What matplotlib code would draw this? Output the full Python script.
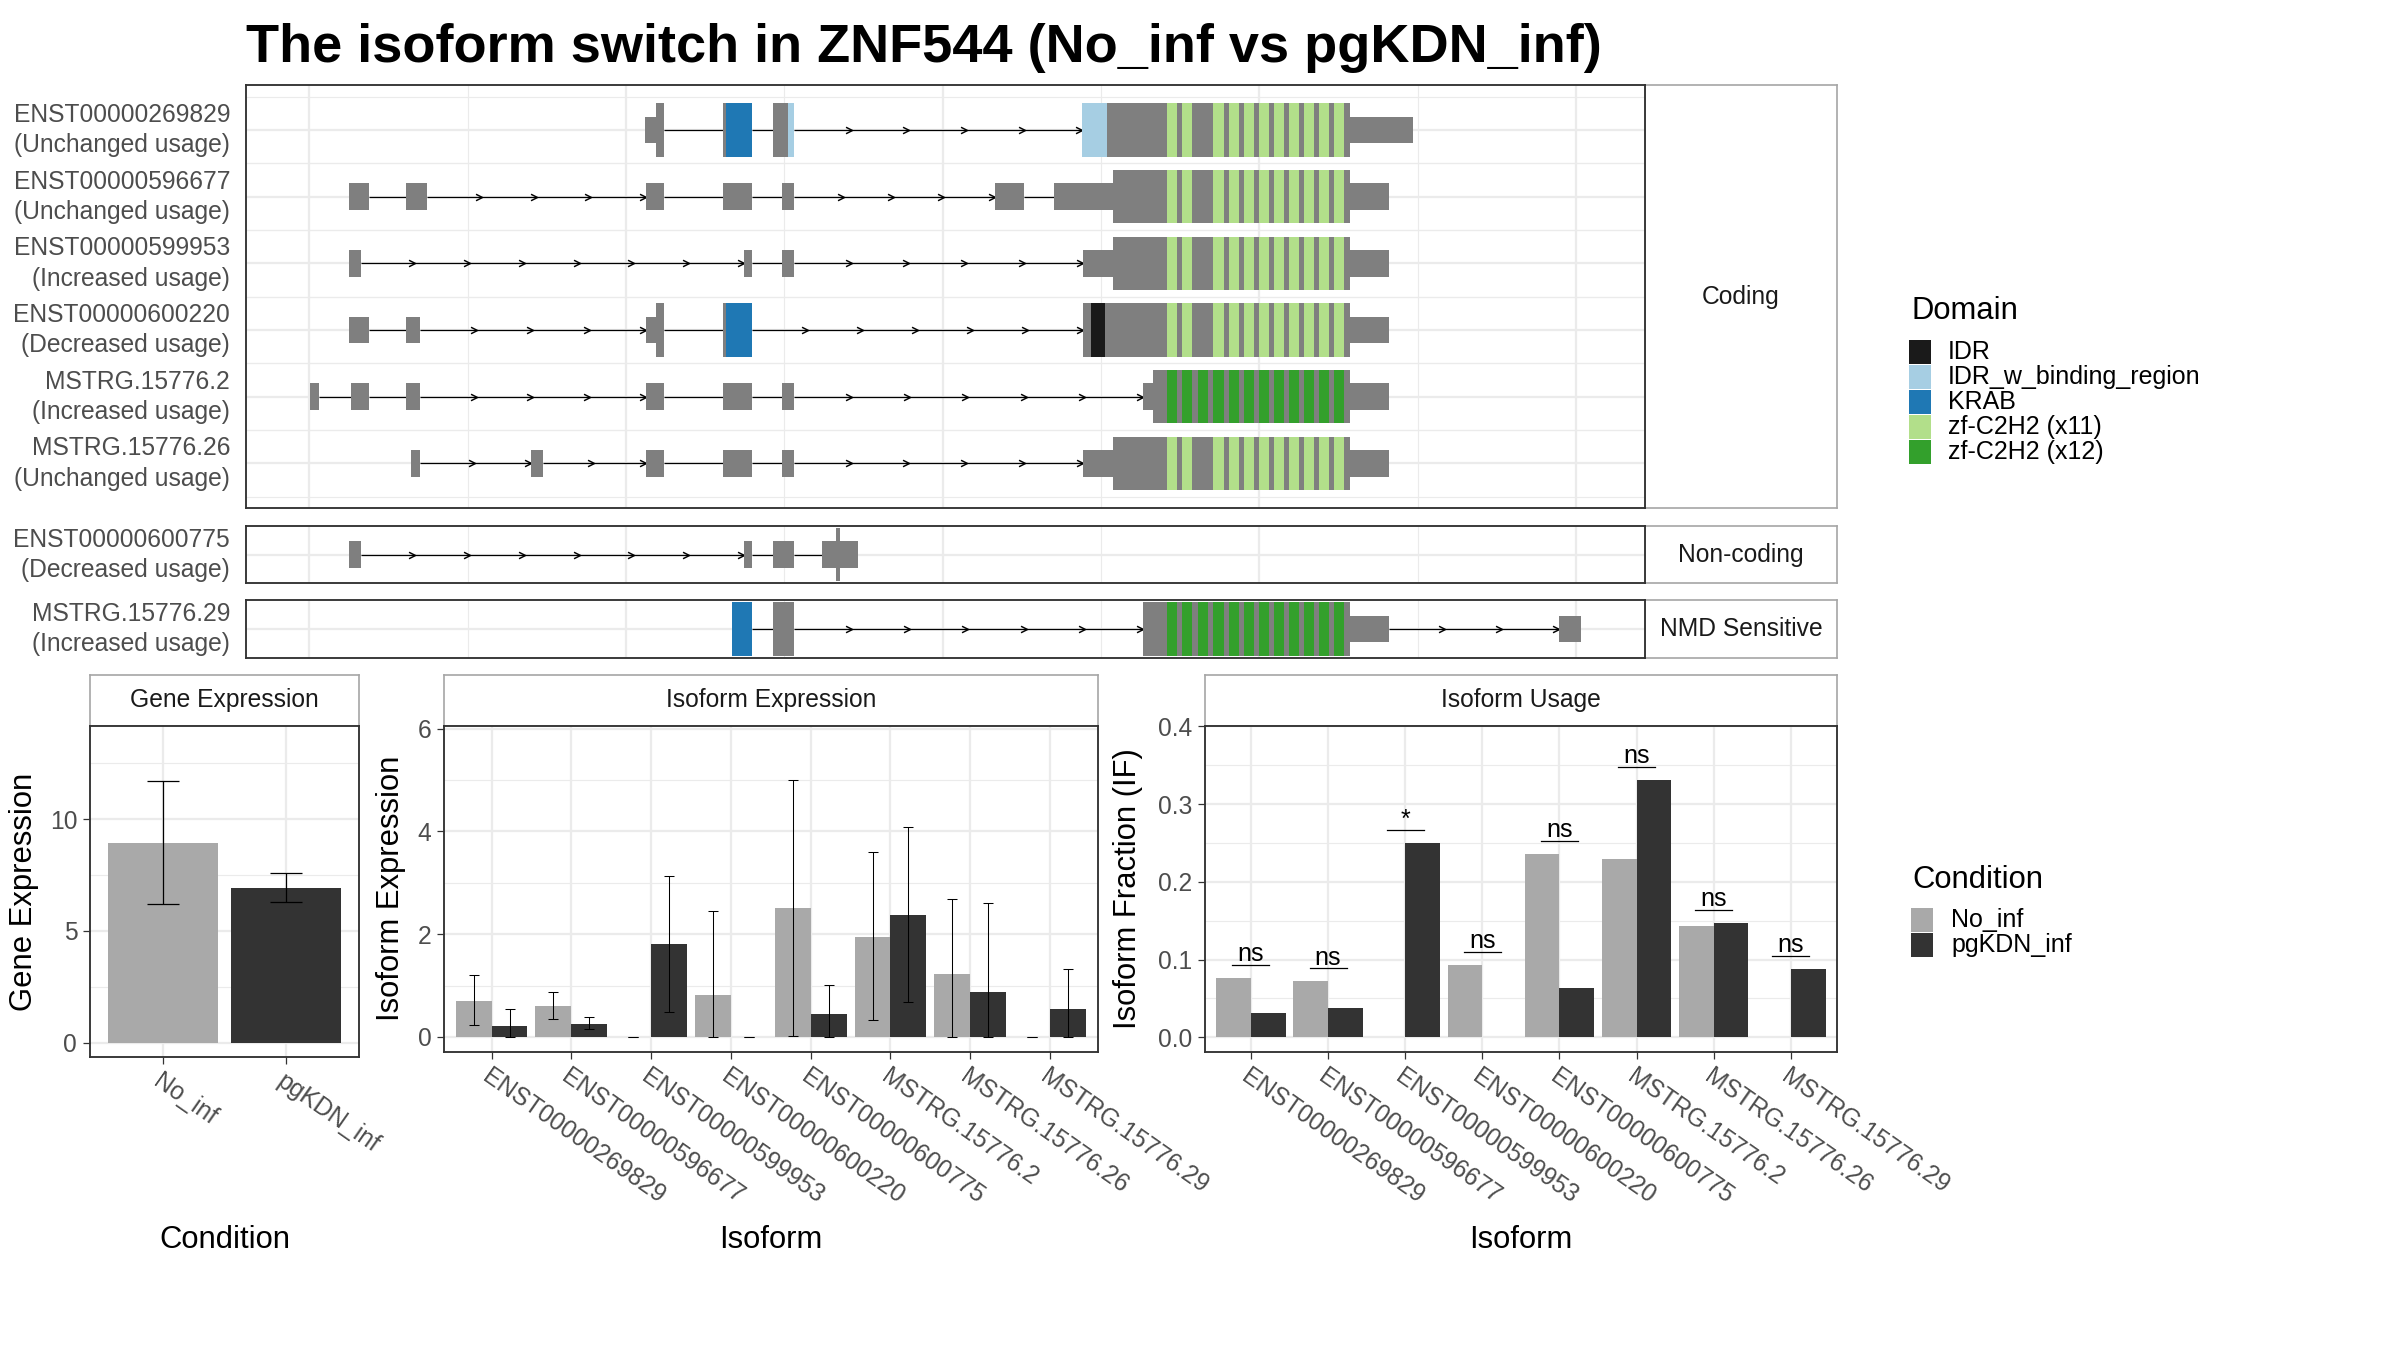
import math
import matplotlib
matplotlib.use("Agg")
import matplotlib.pyplot as plt
from matplotlib.patches import Rectangle
from matplotlib.path import Path

plt.rcParams['font.family'] = ['Liberation Sans', 'DejaVu Sans']

# ---------------- data ----------------
title = "The isoform switch in ZNF544 (No_inf vs pgKDN_inf)"

tx_ids = ["ENST00000269829", "ENST00000596677", "ENST00000599953", "ENST00000600220",
          "MSTRG.15776.2", "MSTRG.15776.26", "ENST00000600775", "MSTRG.15776.29"]
tx_usage = ["Unchanged usage", "Unchanged usage", "Increased usage", "Decreased usage",
            "Increased usage", "Unchanged usage", "Decreased usage", "Increased usage"]
tx_class = ["Coding", "Coding", "Coding", "Coding", "Coding", "Coding",
            "Non-coding", "NMD Sensitive"]
class_order = ["Coding", "Non-coding", "NMD Sensitive"]

# exon coordinates (rescaled transcript coordinates)
exons = {
    "ENST00000269829": [(212.0, 224.1), (261.0, 279.9), (293.1, 306.0), (488.3, 697.3)],
    "ENST00000596677": [(24.9, 37.8), (61.0, 74.3), (212.8, 224.1), (261.0, 279.9),
                        (298.3, 306.0), (432.9, 451.3), (470.6, 681.7)],
    "ENST00000599953": [(24.9, 32.5), (274.3, 279.9), (298.3, 306.0), (488.6, 681.7)],
    "ENST00000600220": [(24.9, 37.8), (61.0, 69.9), (212.8, 224.1), (261.0, 279.9), (488.6, 681.7)],
    "MSTRG.15776.2": [(0.4, 6.0), (26.1, 37.8), (61.0, 69.9), (212.8, 224.1), (261.0, 279.9),
                      (298.3, 306.0), (526.5, 681.7)],
    "MSTRG.15776.26": [(64.3, 69.9), (139.7, 147.4), (212.8, 224.1), (261.0, 279.9),
                       (298.3, 306.0), (488.6, 681.7)],
    "ENST00000600775": [(24.9, 32.5), (274.3, 279.9), (293.1, 306.0), (323.6, 346.5)],
    "MSTRG.15776.29": [(267.0, 279.9), (293.1, 306.0), (526.5, 681.7), (789.2, 803.3)],
}
cds = {
    "ENST00000269829": (218.8, 657.1),
    "ENST00000596677": (507.7, 657.1),
    "ENST00000599953": (507.7, 657.1),
    "ENST00000600220": (218.8, 657.1),
    "MSTRG.15776.2": (533.0, 657.1),
    "MSTRG.15776.26": (507.7, 657.1),
    "ENST00000600775": (332.5, 334.9),
    "MSTRG.15776.29": (267.0, 657.1),
}
zf_x11 = [(542.0, 548.3), (551.5, 557.8), (570.8, 577.6), (580.7, 587.0), (590.2, 596.5),
          (599.6, 605.9), (609.1, 615.4), (619.0, 625.3), (628.4, 634.7), (637.9, 644.2),
          (647.4, 653.7)]
zf_x12 = [(542.0, 548.3), (551.5, 557.8), (561.0, 567.7), (570.8, 577.6), (580.7, 587.0),
          (590.2, 596.5), (599.6, 605.9), (609.1, 615.4), (619.0, 625.3), (628.4, 634.7),
          (637.9, 644.2), (647.4, 653.7)]
Z11 = [(s, e, "zf-C2H2 (x11)") for s, e in zf_x11]
Z12 = [(s, e, "zf-C2H2 (x12)") for s, e in zf_x12]
domains = {
    "ENST00000269829": [(263.0, 279.9, "KRAB"), (302.4, 306.0, "IDR_w_binding_region"),
                        (488.3, 503.6, "IDR_w_binding_region")] + Z11,
    "ENST00000596677": Z11,
    "ENST00000599953": Z11,
    "ENST00000600220": [(263.0, 279.9, "KRAB"), (493.8, 502.5, "IDR")] + Z11,
    "MSTRG.15776.2": Z12,
    "MSTRG.15776.26": Z11,
    "ENST00000600775": [],
    "MSTRG.15776.29": [(267.0, 279.9, "KRAB")] + Z12,
}
domain_names = ["IDR", "IDR_w_binding_region", "KRAB", "zf-C2H2 (x11)", "zf-C2H2 (x12)"]
domain_colors = ["#1A1A1A", "#A6CEE3", "#1F78B4", "#B2DF8A", "#33A02C"]

conditions = ["No_inf", "pgKDN_inf"]
cond_colors = ["#A9A9A9", "#333333"]

gene_expr = [8.92, 6.91]
gene_lo = [6.22, 6.31]
gene_hi = [11.72, 7.58]

iso_names = ["ENST00000269829", "ENST00000596677", "ENST00000599953", "ENST00000600220",
             "ENST00000600775", "MSTRG.15776.2", "MSTRG.15776.26", "MSTRG.15776.29"]
iso_no = [0.706, 0.609, 0.0, 0.823, 2.514, 1.950, 1.231, 0.0]
iso_no_lo = [0.233, 0.356, 0.0, 0.0, 0.026, 0.324, 0.0, 0.0]
iso_no_hi = [1.199, 0.875, 0.0, 2.443, 5.002, 3.596, 2.689, 0.0]
iso_pg = [0.220, 0.259, 1.814, 0.0, 0.454, 2.378, 0.881, 0.551]
iso_pg_lo = [0.0, 0.156, 0.492, 0.0, 0.0, 0.687, 0.0, 0.0]
iso_pg_hi = [0.544, 0.389, 3.143, 0.0, 1.004, 4.082, 2.598, 1.322]

if_no = [0.0764, 0.0725, 0.0, 0.0931, 0.2361, 0.2296, 0.1433, 0.0]
if_pg = [0.0313, 0.0378, 0.2502, 0.0, 0.0635, 0.3313, 0.1472, 0.0880]
sig_labels = ["ns", "ns", "*", "ns", "ns", "ns", "ns", "ns"]

# ---------------- style / layout ----------------
W, H = 2400, 1350
fig = plt.figure(figsize=(16, 9), dpi=150)

GRID = "#EBEBEB"
BORDER = "#333333"
STRIP_EDGE = "#A6A6A6"
AX_TXT = "#4D4D4D"
STRIP_TXT = "#1A1A1A"
EXON = "#7F7F7F"
dcol = dict(zip(domain_names, domain_colors))


def px_axes(x0, y0, x1, y1, zorder=1):
    return fig.add_axes([x0 / W, 1 - y1 / H, (x1 - x0) / W, (y1 - y0) / H], zorder=zorder)


def strip(x0, y0, x1, y1, label):
    s = px_axes(x0, y0, x1, y1, zorder=0)
    s.set_xticks([]); s.set_yticks([])
    s.set_facecolor("white")
    for sp in s.spines.values():
        sp.set_color(STRIP_EDGE); sp.set_linewidth(0.8)
    s.text(0.5, 0.5, label, transform=s.transAxes, ha="center", va="center",
           fontsize=11.8, color=STRIP_TXT)
    return s


def style_border(ax):
    for sp in ax.spines.values():
        sp.set_color(BORDER); sp.set_linewidth(0.9)


fig.text(246 / W, 1 - 62 / H, title, fontsize=26, fontweight="bold", va="baseline", ha="left")

# ---------------- transcript structure panels ----------------
PX0, PX1, SX1 = 246.4, 1644.7, 1837.0
tx_panels = {"Coding": (85.0, 508.3), "Non-coding": (526.0, 583.3), "NMD Sensitive": (600.0, 657.7)}
ROW_PX = 66.67

all_s = [s for ex in exons.values() for s, e in ex]
all_e = [e for ex in exons.values() for s, e in ex]
x_lo, x_hi = min(all_s), max(all_e)
x_pad = 0.05 * (x_hi - x_lo)
chevron = Path([(-2, 1), (0, 0), (-2, -1)], [Path.MOVETO, Path.LINETO, Path.LINETO])

for cls in class_order:
    y0, y1 = tx_panels[cls]
    strip(PX1, y0, SX1, y1, cls)
    ax = px_axes(PX0, y0, PX1, y1, zorder=2)
    members = [(t, u) for t, u, c in zip(tx_ids, tx_usage, tx_class) if c == cls]
    n = len(members)
    hu = (y1 - y0) / ROW_PX
    mid = (n + 1) / 2
    ax.set_xlim(x_lo - x_pad, x_hi + x_pad)
    ax.set_ylim(mid + hu / 2, mid - hu / 2)
    ax.set_xticks([]); ax.set_yticks([])
    style_border(ax)
    for g in range(-100, 1000, 100):
        if x_lo - x_pad < g < x_hi + x_pad:
            ax.axvline(g, color=GRID, lw=1.1 if g % 200 == 0 else 0.55, zorder=0)
    for r in range(1, n + 1):
        ax.axhline(r, color=GRID, lw=1.1, zorder=0)
        ax.axhline(r - 0.5, color=GRID, lw=0.55, zorder=0)
        ax.axhline(r + 0.5, color=GRID, lw=0.55, zorder=0)
    for r, (t, u) in enumerate(members, start=1):
        ex = exons[t]
        cs, ce = cds[t]
        for (s1, e1), (s2, e2) in zip(ex[:-1], ex[1:]):
            ax.plot([e1, s2], [r, r], color="black", lw=0.6, zorder=2, solid_capstyle="butt")
            L = s2 - e1
            if L > 40:
                k = math.ceil(L / 37)
                tips = [e1 + L * i / k for i in range(1, k + 1)]
                ax.plot(tips, [r] * k, ls="none", marker=chevron, ms=6.2, mfc="none",
                        mec="black", mew=0.7, zorder=3)
        for s, e in ex:
            ax.add_patch(Rectangle((s, r - 0.2), e - s, 0.4, fc=EXON, lw=0, zorder=4))
            a, b = max(s, cs), min(e, ce)
            if b > a:
                ax.add_patch(Rectangle((a, r - 0.4), b - a, 0.8, fc=EXON, lw=0, zorder=4))
        for s, e, name in domains[t]:
            ax.add_patch(Rectangle((s, r - 0.4), e - s, 0.8, fc=dcol[name], lw=0, zorder=5))
        ax.annotate(t, xy=(0, r), xycoords=("axes fraction", "data"), xytext=(-16.4, 8.0),
                    textcoords="offset pixels", ha="right", va="baseline", fontsize=11.8,
                    color=AX_TXT, annotation_clip=False)
        ax.annotate("(" + u + ")", xy=(0, r), xycoords=("axes fraction", "data"),
                    xytext=(-16.4, -22.5), textcoords="offset pixels", ha="right",
                    va="baseline", fontsize=11.8, color=AX_TXT, annotation_clip=False)

# ---------------- bottom bar panels ----------------
STRIP_Y0, STRIP_Y1 = 675.0, 725.7


def base_panel(x0, x1, ybot, label, ylim, major, minor, xlabels):
    strip(x0, STRIP_Y0, x1, STRIP_Y1, label)
    ax = px_axes(x0, STRIP_Y1, x1, ybot, zorder=2)
    n = len(xlabels)
    ax.set_xlim(0.4, n + 0.6)
    ax.set_ylim(*ylim)
    style_border(ax)
    for v in minor:
        ax.axhline(v, color=GRID, lw=0.55, zorder=0)
    for v in major:
        ax.axhline(v, color=GRID, lw=1.1, zorder=0)
    for i in range(1, n + 1):
        ax.axvline(i, color=GRID, lw=1.1, zorder=0)
    ax.set_xticks(range(1, n + 1))
    ax.set_xticklabels(xlabels, rotation=-35, ha="left", va="top", rotation_mode="anchor")
    ax.set_yticks(major)
    ax.tick_params(axis="both", length=3.4, width=0.6, color=BORDER, labelcolor=AX_TXT,
                   labelsize=11.8, pad=2.5)
    return ax


# Gene expression
axg = base_panel(89.5, 359.4, 1057.3, "Gene Expression", (-0.65, 14.18), [0, 5, 10],
                 [2.5, 7.5, 12.5], conditions)
gx = list(range(1, len(conditions) + 1))
axg.bar(gx, gene_expr, width=0.9, color=cond_colors, zorder=2)
axg.errorbar(gx, gene_expr, yerr=[[v - l for v, l in zip(gene_expr, gene_lo)],
                                  [h - v for v, h in zip(gene_expr, gene_hi)]],
             fmt="none", ecolor="black", elinewidth=0.6, capsize=7.7, capthick=0.6, zorder=3)

# Isoform expression
axe = base_panel(443.7, 1097.9, 1051.7, "Isoform Expression", (-0.288, 6.06), [0, 2, 4, 6],
                 [1, 3, 5], iso_names)
ix = list(range(1, len(iso_names) + 1))
for vals, lo, hi, col, off in [(iso_no, iso_no_lo, iso_no_hi, cond_colors[0], -0.225),
                               (iso_pg, iso_pg_lo, iso_pg_hi, cond_colors[1], 0.225)]:
    xs = [i + off for i in ix]
    axe.bar(xs, vals, width=0.45, color=col, zorder=2)
    axe.errorbar(xs, vals, yerr=[[v - l for v, l in zip(vals, lo)], [h - v for v, h in zip(vals, hi)]],
                 fmt="none", ecolor="black", elinewidth=0.5, capsize=2.3, capthick=0.5, zorder=3)

# Isoform usage
axu = base_panel(1204.6, 1837.2, 1051.7, "Isoform Usage", (-0.0185, 0.401),
                 [0.0, 0.1, 0.2, 0.3, 0.4], [0.05, 0.15, 0.25, 0.35], iso_names)
axu.set_yticklabels(["0.0", "0.1", "0.2", "0.3", "0.4"])
for vals, col, off in [(if_no, cond_colors[0], -0.225), (if_pg, cond_colors[1], 0.225)]:
    axu.bar([i + off for i in ix], vals, width=0.45, color=col, zorder=2)
for i, a, b, lab in zip(ix, if_no, if_pg, sig_labels):
    ly = max(a, b) + 0.0165
    axu.plot([i - 0.24, i + 0.24], [ly, ly], color="black", lw=0.6, zorder=4)
    axu.text(i, ly + 0.0047, lab, ha="center", va="baseline", fontsize=12, color="black", zorder=4)

# axis titles
for txt, x, y, rot in [("Gene Expression", 23.8, 891.5, 90), ("Isoform Expression", 390.5, 888.7, 90),
                       ("Isoform Fraction (IF)", 1128.0, 888.7, 90), ("Condition", 224.5, 1240, 0),
                       ("Isoform", 771.0, 1240, 0), ("Isoform", 1521.0, 1240, 0)]:
    fig.text(x / W, 1 - y / H, txt, rotation=rot, ha="center", va="center", fontsize=14.9,
             color="black")

# ---------------- legends ----------------
def legend(title_txt, tx, tbase, names, colors, kx, kw, centers, kh, lx):
    fig.text(tx / W, 1 - tbase / H, title_txt, fontsize=14.9, va="baseline", ha="left")
    for nm, c, yc in zip(names, colors, centers):
        fig.patches.append(Rectangle((kx / W, 1 - (yc + kh / 2) / H), kw / W, kh / H,
                                     transform=fig.transFigure, fc=c, lw=0))
        fig.text(lx / W, 1 - yc / H, nm, fontsize=12, va="center", ha="left")


legend("Domain", 1912, 319.3, domain_names, domain_colors, 1909, 22, [352, 377, 402, 427, 452],
       23.3, 1948)
legend("Condition", 1912, 888.5, conditions, cond_colors, 1911, 22, [920, 945], 23.3, 1951)

fig.savefig("out.png", dpi=150)
